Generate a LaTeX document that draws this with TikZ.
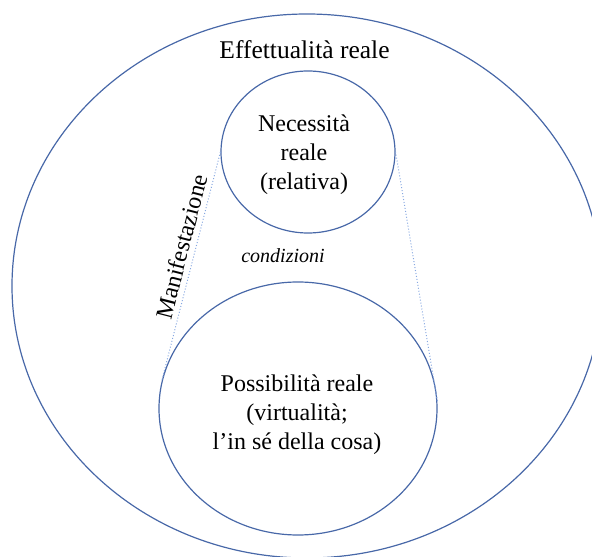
\documentclass[tikz,border=0pt]{standalone}
\usepackage{fontspec}
\setmainfont{Liberation Serif}
\usetikzlibrary{shapes.geometric}
\definecolor{ringblue}{RGB}{72,104,168}
\definecolor{linkblue}{RGB}{135,168,225}
\tikzset{
  ring/.style={ellipse, draw=ringblue, line width=1.2pt, inner sep=0pt},
  link/.style={draw=linkblue, dotted, line width=1pt},
  txt/.style={font=\fontsize{24}{29}\selectfont, align=center}
}
\begin{document}
\begin{tikzpicture}[x=1pt,y=1pt]
	\useasboundingbox (0,0) rectangle (592,557);
	% the three rings
	\node[ring, minimum width=590pt, minimum height=544pt] (effett) at (307,271) {};
	\node[ring, minimum width=174pt, minimum height=162pt] (neces) at (308,405) {};
	\node[ring, minimum width=278pt, minimum height=253pt] (possib) at (298,148.5) {};
	% texts
	\node[txt, font=\fontsize{25.5}{30}\selectfont, anchor=base] (effettlab) at (304.5,498) {Effettualità reale};
	\node[txt] (neceslab) at (304,402) {Necessità\\reale\\(relativa)};
	\node[txt] (possiblab) at (297,142) {Possibilità reale\\(virtualità;\\l’in sé della cosa)};
	\node[txt, font=\fontsize{20}{24}\selectfont\itshape, anchor=base] (condiz) at (283,294) {condizioni};
	% dotted links
	\draw[link] (possib.168) -- node[txt, sloped, above, pos=0.57, inner sep=5pt] (manif) {Manifestazione} (neces.west);
	\draw[link] (possib.3) -- (neces.east);
\end{tikzpicture}
\end{document}
